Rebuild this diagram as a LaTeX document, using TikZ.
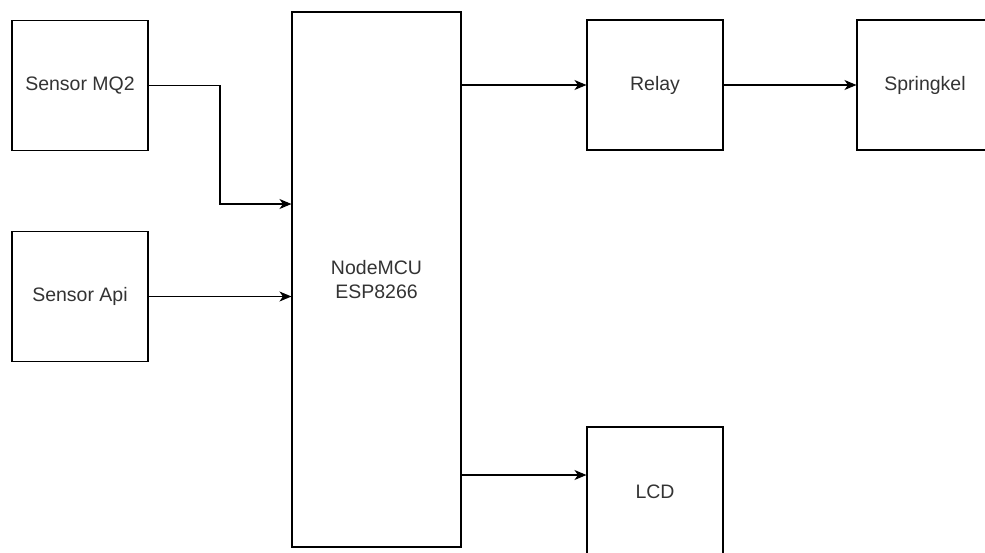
\documentclass[tikz,border=0pt]{standalone}
\usepackage{fontspec}
\setmainfont{Liberation Sans}
\usetikzlibrary{arrows.meta,positioning,calc}
\definecolor{LabelGray}{HTML}{333333}

\begin{document}
\begin{tikzpicture}[x=1pt,y=-1pt,>={Stealth[length=12pt,width=10pt,inset=3.5pt]},
  blok/.style={draw,line width=1.1pt,minimum width=136pt,minimum height=130pt,
    inner sep=0pt,align=center,text=LabelGray,font=\fontsize{19.5}{24}\selectfont},
  link/.style={->,line width=1.1pt}]
  \useasboundingbox (0,0) rectangle (985,552);
  % sensors
  \node[blok] (mq2) at (80,85.5) {Sensor MQ2};
  \node[blok] (api) at (80,296.5) {Sensor Api};
  % controller
  \node[blok,minimum width=169pt,minimum height=535pt] (mcu) at (376.5,279.5) {NodeMCU\\ESP8266};
  % outputs
  \node[blok] (relay) at (655,85) {Relay};
  \node[blok] (spr) at (925,85) {Springkel};
  \node[blok] (lcd) at (655,492) {LCD};
  \draw[link] (mq2.east) -- (220,85.5) |- (mcu.west |- 0,204);
  \draw[link] (api.east) -- (mcu.west |- api.east);
  \draw[link] (mcu.east |- relay.west) -- (relay.west);
  \draw[link] (relay.east) -- (spr.west);
  \draw[link] (mcu.east |- 0,475) -- (lcd.west |- 0,475);
\end{tikzpicture}
\end{document}
